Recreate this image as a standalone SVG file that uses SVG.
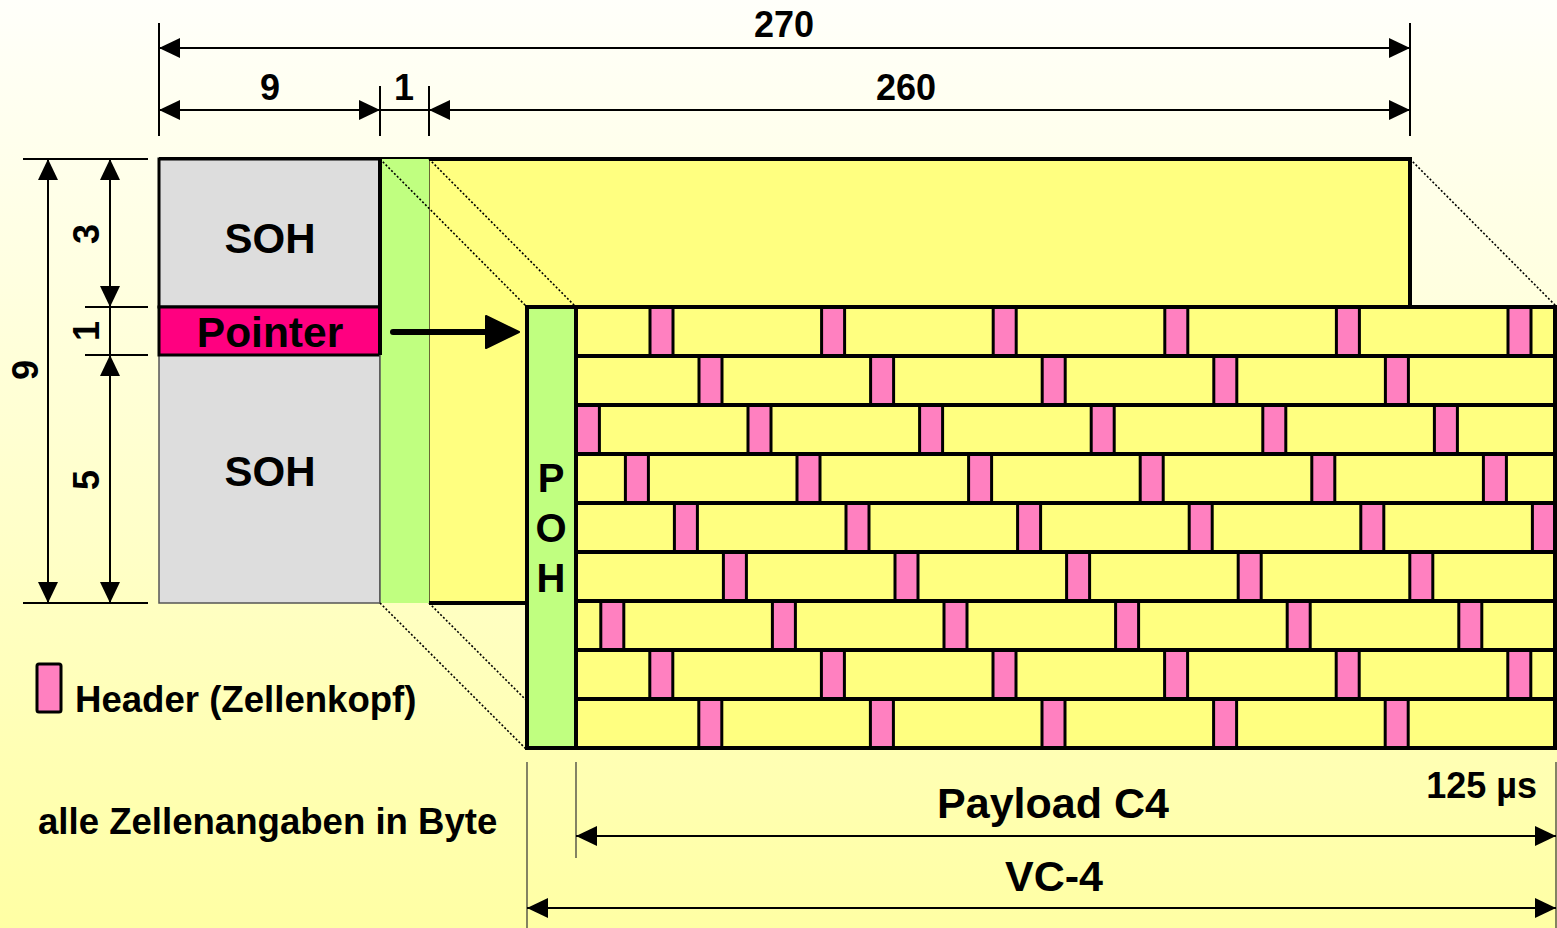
<svg xmlns="http://www.w3.org/2000/svg" xmlns:xlink="http://www.w3.org/1999/xlink" width="1557" height="928" viewBox="0 0 1557 928">
<style>
text{font-family:"Liberation Sans",Arial,sans-serif;font-weight:bold;fill:#000}
.dim{stroke:#000;stroke-width:2;fill:none}
.ext{stroke:#000;stroke-width:2;fill:none}
.dot{stroke:#000;stroke-width:1.6;stroke-dasharray:2 2;fill:none}
.hdr{fill:#FF80C0;stroke:#000;stroke-width:3}
.row{fill:none;stroke:#000;stroke-width:4}
.num{font-size:36px}
</style>
<defs>
<linearGradient id="bg" x1="0" y1="0" x2="0" y2="1">
<stop offset="0" stop-color="#FFFFFA"/>
<stop offset="1" stop-color="#FFFFA4"/>
</linearGradient>
<marker id="ah" viewBox="0 0 21 20" refX="21" refY="10" markerWidth="21" markerHeight="20" markerUnits="userSpaceOnUse" orient="auto-start-reverse">
<path d="M0,0 L21,10 L0,20 z" fill="#000"/>
</marker>
<clipPath id="pl"><rect x="576" y="307" width="979" height="441"/></clipPath>
<rect id="h" class="hdr" width="23" height="49"/>
</defs>
<rect width="1557" height="928" fill="url(#bg)"/>

<g id="frame">
<rect x="429" y="159" width="981" height="444" fill="#FFFF80"/>
<path d="M159,159 H1410 V307 M429,603 H527" stroke="#000" stroke-width="4" fill="none"/>
<line x1="429" y1="159" x2="429" y2="603" stroke="#000" stroke-width="1.2"/>
</g>

<g id="soh-top">
<rect x="159" y="159" width="221" height="148" fill="#DDDDDD" stroke="#000" stroke-width="3"/>
<text x="270" y="253" font-size="42" text-anchor="middle">SOH</text>
</g>
<g id="soh-bottom">
<rect x="159" y="355" width="221" height="248" fill="#DDDDDD" stroke="#555" stroke-width="1.5"/>
<text x="270" y="486" font-size="42" text-anchor="middle">SOH</text>
</g>
<g id="pointer">
<rect x="159" y="307" width="221" height="48" fill="#FF0080" stroke="#000" stroke-width="3"/>
<text x="270" y="347" font-size="42.5" text-anchor="middle">Pointer</text>
</g>
<g id="poh-frame">
<rect x="380" y="159" width="49" height="444" fill="#C0FF80"/>
<line x1="380" y1="159" x2="380" y2="355" stroke="#000" stroke-width="4"/>
<line x1="380" y1="355" x2="380" y2="603" stroke="#555" stroke-width="1.5"/>
</g>

<g id="connectors">
<line class="dot" x1="380" y1="159" x2="527" y2="307"/>
<line class="dot" x1="429" y1="159" x2="576" y2="307"/>
<line class="dot" x1="1410" y1="159" x2="1557" y2="307"/>
<line class="dot" x1="380" y1="603" x2="527" y2="750"/>
<line class="dot" x1="429" y1="603" x2="527" y2="701"/>
<path d="M393,332 H490" stroke="#000" stroke-width="6" stroke-linecap="round" fill="none"/>
<path d="M486,316 L519,332 L486,348 z" fill="#000" stroke="#000" stroke-width="2" stroke-linejoin="round"/>
</g>

<g id="vc4">
<rect x="576" y="307" width="979" height="441" fill="#FFFF80"/>
<g clip-path="url(#pl)">
<use xlink:href="#h" x="650" y="307"/><use xlink:href="#h" x="821.6" y="307"/><use xlink:href="#h" x="993.2" y="307"/><use xlink:href="#h" x="1164.8" y="307"/><use xlink:href="#h" x="1336.4" y="307"/><use xlink:href="#h" x="1508" y="307"/>
<use xlink:href="#h" x="699" y="356"/><use xlink:href="#h" x="870.6" y="356"/><use xlink:href="#h" x="1042.2" y="356"/><use xlink:href="#h" x="1213.8" y="356"/><use xlink:href="#h" x="1385.4" y="356"/>
<use xlink:href="#h" x="576.4" y="405"/><use xlink:href="#h" x="748" y="405"/><use xlink:href="#h" x="919.6" y="405"/><use xlink:href="#h" x="1091.2" y="405"/><use xlink:href="#h" x="1262.8" y="405"/><use xlink:href="#h" x="1434.4" y="405"/>
<use xlink:href="#h" x="625.4" y="454"/><use xlink:href="#h" x="797" y="454"/><use xlink:href="#h" x="968.6" y="454"/><use xlink:href="#h" x="1140.2" y="454"/><use xlink:href="#h" x="1311.8" y="454"/><use xlink:href="#h" x="1483.4" y="454"/>
<use xlink:href="#h" x="674.4" y="503"/><use xlink:href="#h" x="846" y="503"/><use xlink:href="#h" x="1017.6" y="503"/><use xlink:href="#h" x="1189.2" y="503"/><use xlink:href="#h" x="1360.8" y="503"/><use xlink:href="#h" x="1532.4" y="503"/>
<use xlink:href="#h" x="723.4" y="552"/><use xlink:href="#h" x="895" y="552"/><use xlink:href="#h" x="1066.6" y="552"/><use xlink:href="#h" x="1238.2" y="552"/><use xlink:href="#h" x="1409.8" y="552"/>
<use xlink:href="#h" x="600.8" y="601"/><use xlink:href="#h" x="772.4" y="601"/><use xlink:href="#h" x="944" y="601"/><use xlink:href="#h" x="1115.6" y="601"/><use xlink:href="#h" x="1287.2" y="601"/><use xlink:href="#h" x="1458.8" y="601"/>
<use xlink:href="#h" x="649.8" y="650"/><use xlink:href="#h" x="821.4" y="650"/><use xlink:href="#h" x="993" y="650"/><use xlink:href="#h" x="1164.6" y="650"/><use xlink:href="#h" x="1336.2" y="650"/><use xlink:href="#h" x="1507.8" y="650"/>
<use xlink:href="#h" x="698.8" y="699"/><use xlink:href="#h" x="870.4" y="699"/><use xlink:href="#h" x="1042" y="699"/><use xlink:href="#h" x="1213.6" y="699"/><use xlink:href="#h" x="1385.2" y="699"/>
</g>
<path class="row" d="M576,356 H1555 M576,405 H1555 M576,454 H1555 M576,503 H1555 M576,552 H1555 M576,601 H1555 M576,650 H1555 M576,699 H1555"/>
<rect x="527" y="307" width="1028" height="441" fill="none" stroke="#000" stroke-width="4"/>
</g>
<g id="poh">
<rect x="527" y="307" width="49" height="441" fill="#C0FF80" stroke="#000" stroke-width="4"/>
<text x="551" y="492" font-size="40" text-anchor="middle">P</text>
<text x="551" y="542" font-size="40" text-anchor="middle">O</text>
<text x="551" y="592" font-size="40" text-anchor="middle">H</text>
</g>

<g id="dimensions">
<path class="ext" d="M159,23 V136 M1410,23 V136 M380,86 V136 M429,86 V136"/>
<line class="dim" x1="159" y1="48" x2="1410" y2="48" marker-start="url(#ah)" marker-end="url(#ah)"/>
<line class="dim" x1="159" y1="110" x2="380" y2="110" marker-start="url(#ah)" marker-end="url(#ah)"/>
<line class="dim" x1="380" y1="110" x2="429" y2="110"/>
<line class="dim" x1="429" y1="110" x2="1410" y2="110" marker-start="url(#ah)" marker-end="url(#ah)"/>
<text class="num" x="784" y="37" text-anchor="middle">270</text>
<text class="num" x="270" y="100" text-anchor="middle">9</text>
<text class="num" x="404" y="100" text-anchor="middle">1</text>
<text class="num" x="906" y="100" text-anchor="middle">260</text>

<path class="ext" d="M23,159 H148 M23,603 H148 M85,307 H148 M85,355 H148"/>
<line class="dim" x1="48" y1="159" x2="48" y2="603" marker-start="url(#ah)" marker-end="url(#ah)"/>
<line class="dim" x1="110" y1="159" x2="110" y2="307" marker-start="url(#ah)" marker-end="url(#ah)"/>
<line class="dim" x1="110" y1="307" x2="110" y2="355"/>
<line class="dim" x1="110" y1="355" x2="110" y2="603" marker-start="url(#ah)" marker-end="url(#ah)"/>
<text class="num" transform="translate(38,370) rotate(-90)" text-anchor="middle">9</text>
<text class="num" transform="translate(99,234) rotate(-90)" text-anchor="middle">3</text>
<text class="num" transform="translate(99,331) rotate(-90)" text-anchor="middle">1</text>
<text class="num" transform="translate(99,480) rotate(-90)" text-anchor="middle">5</text>

<path d="M527,762 V928 M576,762 V858 M1556,762 V928" stroke="#333" stroke-width="1.2" fill="none"/>
<line class="dim" x1="576" y1="836" x2="1556" y2="836" marker-start="url(#ah)" marker-end="url(#ah)"/>
<line class="dim" x1="527" y1="908" x2="1556" y2="908" marker-start="url(#ah)" marker-end="url(#ah)"/>
<text x="1053" y="818" font-size="43" text-anchor="middle">Payload C4</text>
<text x="1054" y="891" font-size="43" text-anchor="middle">VC-4</text>
<text x="1537" y="798" font-size="36" text-anchor="end">125 µs</text>
</g>

<g id="legend">
<rect x="37" y="664" width="24" height="48" fill="#FF80C0" stroke="#000" stroke-width="3" rx="2"/>
<text x="75" y="712" font-size="36.6">Header (Zellenkopf)</text>
<text x="38" y="834" font-size="36.6">alle Zellenangaben in Byte</text>
</g>
</svg>
